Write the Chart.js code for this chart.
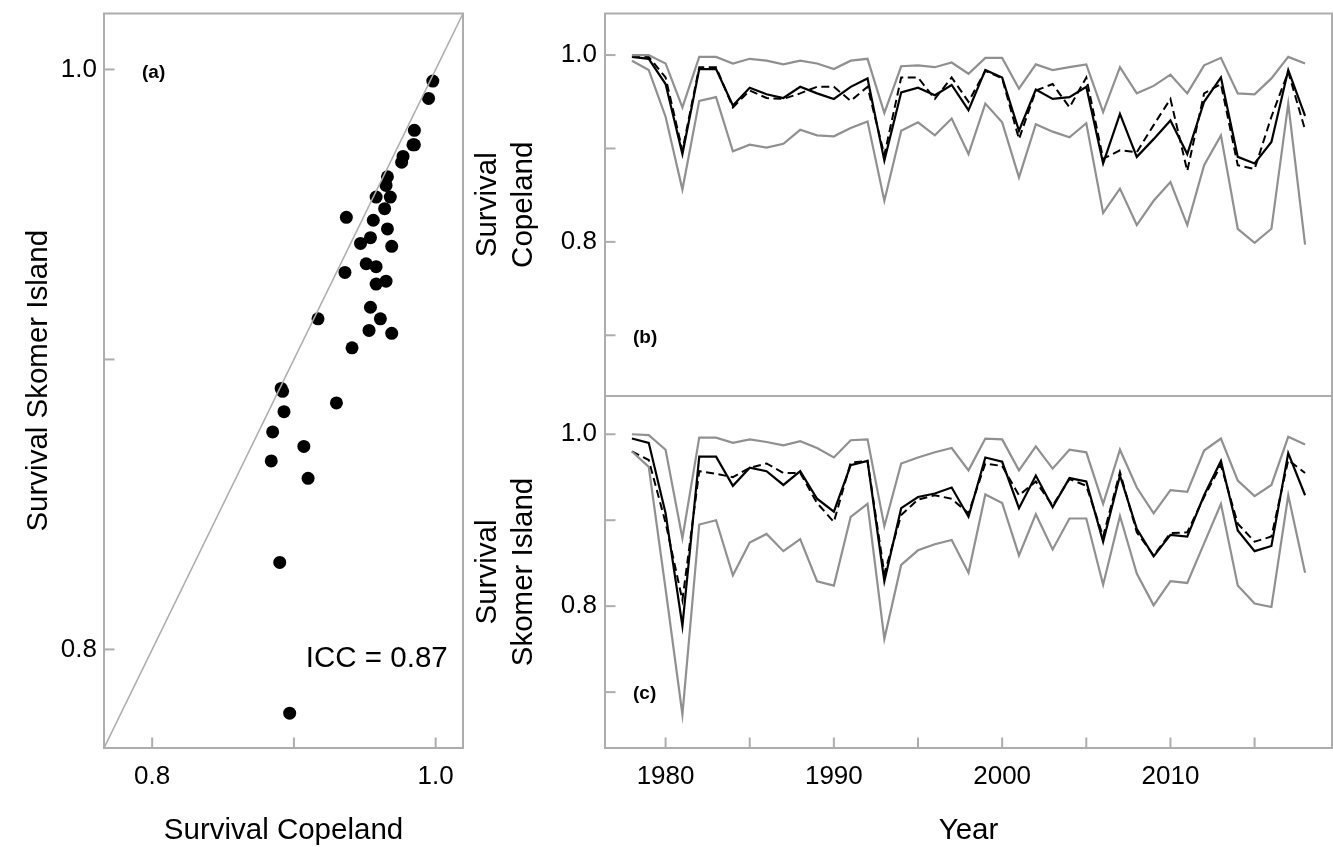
<!DOCTYPE html>
<html>
<head>
<meta charset="utf-8">
<title>Survival Copeland vs Skomer Island</title>
<script src="https://cdn.jsdelivr.net/npm/chart.js@4.4.1/dist/chart.umd.min.js"></script>
<style>
  html, body { margin: 0; padding: 0; background: #fff; }
  #wrap { position: relative; width: 1333px; height: 847px; overflow: hidden; background: #fff; }
  canvas { position: absolute; }
</style>
</head>
<body>
<div id="wrap">
  <canvas id="graficoA" width="470" height="847" style="left:0;top:0;width:470px;height:847px"></canvas>
  <canvas id="graficoB" width="863" height="400" style="left:470px;top:0;width:863px;height:400px"></canvas>
  <canvas id="graficoC" width="863" height="455" style="left:470px;top:392px;width:863px;height:455px"></canvas>
</div>
<script>
// anos e estimativas de sobrevivencia
const anos = [1978, 1979, 1980, 1981, 1982, 1983, 1984, 1985, 1986, 1987,
              1988, 1989, 1990, 1991, 1992, 1993, 1994, 1995, 1996, 1997,
              1998, 1999, 2000, 2001, 2002, 2003, 2004, 2005, 2006, 2007,
              2008, 2009, 2010, 2011, 2012, 2013, 2014, 2015, 2016, 2017, 2018];

// (b) Copeland
const copSup = [1.0, 1.0, 0.991, 0.944, 0.998, 0.998, 0.991, 0.996, 0.994, 0.990,
                0.994, 0.991, 0.985, 0.994, 0.996, 0.938, 0.988, 0.989, 0.987, 0.992,
                0.980, 0.997, 0.997, 0.964, 0.990, 0.984, 0.987, 0.990, 0.939, 0.987,
                0.959, 0.967, 0.979, 0.959, 0.989, 0.997, 0.959, 0.958, 0.975, 0.998, 0.991];
const copInf = [0.994, 0.984, 0.934, 0.856, 0.951, 0.955, 0.897, 0.904, 0.901, 0.905,
                0.920, 0.914, 0.913, 0.922, 0.929, 0.844, 0.919, 0.928, 0.914, 0.932,
                0.894, 0.948, 0.928, 0.869, 0.926, 0.918, 0.912, 0.927, 0.831, 0.857,
                0.818, 0.844, 0.864, 0.818, 0.882, 0.914, 0.814, 0.799, 0.814, 0.948, 0.797];
const copSolida = [0.998, 0.996, 0.969, 0.894, 0.985, 0.985, 0.946, 0.965, 0.958, 0.954,
                   0.966, 0.959, 0.953, 0.966, 0.975, 0.887, 0.960, 0.965, 0.957, 0.968,
                   0.941, 0.984, 0.976, 0.919, 0.963, 0.953, 0.955, 0.966, 0.884, 0.937,
                   0.891, 0.910, 0.930, 0.894, 0.950, 0.976, 0.891, 0.884, 0.907, 0.984, 0.935];
const copTracejada = [0.999, 0.998, 0.976, 0.898, 0.987, 0.987, 0.944, 0.962, 0.954, 0.953,
                      0.959, 0.966, 0.966, 0.951, 0.966, 0.893, 0.976, 0.976, 0.953, 0.976,
                      0.950, 0.983, 0.975, 0.910, 0.962, 0.969, 0.944, 0.976, 0.889, 0.898,
                      0.896, 0.925, 0.953, 0.876, 0.959, 0.969, 0.882, 0.878, 0.934, 0.982, 0.920];

// (c) Skomer Island
const skoSup = [1.0, 0.999, 0.982, 0.879, 0.996, 0.996, 0.990, 0.994, 0.991, 0.987,
                0.992, 0.984, 0.973, 0.993, 0.994, 0.893, 0.966, 0.973, 0.979, 0.984,
                0.958, 0.995, 0.994, 0.958, 0.986, 0.960, 0.982, 0.979, 0.919, 0.982,
                0.938, 0.908, 0.935, 0.933, 0.981, 0.995, 0.946, 0.928, 0.941, 0.997, 0.988];
const skoInf = [0.980, 0.962, 0.820, 0.674, 0.895, 0.900, 0.836, 0.874, 0.884, 0.864,
                0.878, 0.829, 0.824, 0.904, 0.919, 0.762, 0.848, 0.865, 0.872, 0.877,
                0.839, 0.930, 0.920, 0.859, 0.907, 0.866, 0.902, 0.902, 0.825, 0.905,
                0.838, 0.801, 0.829, 0.827, 0.873, 0.919, 0.824, 0.803, 0.799, 0.929, 0.839];
const skoSolida = [0.995, 0.990, 0.908, 0.777, 0.974, 0.974, 0.940, 0.961, 0.957, 0.941,
                   0.957, 0.925, 0.910, 0.964, 0.969, 0.829, 0.914, 0.927, 0.931, 0.938,
                   0.904, 0.973, 0.968, 0.914, 0.952, 0.915, 0.949, 0.945, 0.875, 0.952,
                   0.890, 0.858, 0.883, 0.881, 0.929, 0.969, 0.888, 0.864, 0.870, 0.978, 0.929];
const skoTracejada = [0.980, 0.970, 0.897, 0.807, 0.957, 0.954, 0.950, 0.961, 0.966, 0.955,
                      0.955, 0.920, 0.898, 0.967, 0.969, 0.838, 0.906, 0.924, 0.929, 0.925,
                      0.908, 0.966, 0.963, 0.929, 0.945, 0.917, 0.948, 0.940, 0.881, 0.956,
                      0.886, 0.859, 0.885, 0.886, 0.927, 0.964, 0.896, 0.875, 0.881, 0.970, 0.955];

// (a) pontos: Copeland (x) vs Skomer Island (y)
const pontosCop = [0.998, 0.995, 0.985, 0.985, 0.984, 0.977, 0.976, 0.966, 0.965, 0.968,
                   0.958, 0.964, 0.937, 0.956, 0.966, 0.954, 0.947, 0.969, 0.936, 0.951,
                   0.958, 0.965, 0.958, 0.954, 0.961, 0.917, 0.953, 0.969, 0.941, 0.891,
                   0.892, 0.930, 0.893, 0.885, 0.907, 0.884, 0.910, 0.890, 0.897];
const pontosSko = [0.996, 0.990, 0.979, 0.974, 0.974, 0.970, 0.968, 0.963, 0.960, 0.956,
                   0.956, 0.952, 0.949, 0.948, 0.945, 0.942, 0.940, 0.939, 0.930, 0.933,
                   0.932, 0.927, 0.926, 0.918, 0.914, 0.914, 0.910, 0.909, 0.904, 0.890,
                   0.889, 0.885, 0.882, 0.875, 0.870, 0.865, 0.859, 0.830, 0.778];

const rotuloICC = 'ICC = 0.87';

// limites dos eixos
const limA = [0.766, 1.0193];
const limAnos = [1976.4, 2019.6];
const limSobrev = [0.635, 1.0445];

const CINZA_EIXO = '#adadad';
const CINZA_IC = '#909090';
const FONTE = "'Liberation Sans', Arial, sans-serif";

Chart.defaults.font.family = FONTE;
Chart.defaults.color = '#000';
Chart.defaults.animation = false;

// moldura, ticks para dentro e textos
function moldura(cfg) {
    return {
        id: 'moldura',
        afterDraw(chart) {
            const ctx = chart.ctx;
            const a = chart.chartArea;
            ctx.save();
            ctx.strokeStyle = CINZA_EIXO;
            ctx.lineWidth = 2;
            ctx.strokeRect(a.left, a.top, a.right - a.left, a.bottom - a.top);
            cfg.ticks.forEach(function(id) {
                const s = chart.scales[id];
                s.ticks.forEach(function(t) {
                    const p = s.getPixelForValue(t.value);
                    ctx.beginPath();
                    if (s.isHorizontal()) {
                        ctx.moveTo(p, a.bottom);
                        ctx.lineTo(p, a.bottom - 10.5);
                    } else {
                        ctx.moveTo(a.left, p);
                        ctx.lineTo(a.left + 10.5, p);
                    }
                    ctx.stroke();
                });
            });
            ctx.fillStyle = '#000';
            cfg.textos.forEach(function(t) {
                ctx.font = t.font;
                ctx.textAlign = t.align;
                ctx.textBaseline = 'middle';
                const x = t.xv !== undefined ? chart.scales.x.getPixelForValue(t.xv) : a.left + t.dx;
                const y = chart.scales.y.getPixelForValue(t.yv) + (t.dy || 0);
                ctx.fillText(t.text, x, y);
            });
            ctx.restore();
        }
    };
}

// sem folga extra para os rotulos nas pontas
function semFolga(s) {
    s.paddingTop = 0;
    s.paddingBottom = 0;
    s.paddingLeft = 0;
    s.paddingRight = 0;
}

function rotuloDecimal(v) {
    const r = Math.round(v * 10);
    return r % 2 === 0 ? (r / 10).toFixed(1) : '';
}

//Grafico (a)
new Chart(document.getElementById('graficoA').getContext('2d'), {
    type: 'scatter',
    data: {
        datasets: [{
            type: 'line',
            data: [{x: limA[0], y: limA[0]}, {x: limA[1], y: limA[1]}],
            borderColor: CINZA_EIXO,
            borderWidth: 1.6,
            pointRadius: 0
        }, {
            data: pontosCop.map(function(c, i) { return {x: c, y: pontosSko[i]}; }),
            backgroundColor: '#000',
            borderColor: '#000',
            pointRadius: 6.5,
            borderWidth: 0
        }]
    },
    options: {
        responsive: false,
        layout: { padding: { left: 0, top: 13.5, right: 7, bottom: 0 } },
        plugins: { legend: { display: false }, tooltip: { enabled: false } },
        scales: {
            x: {
                type: 'linear', min: limA[0], max: limA[1],
                grid: { display: false, drawTicks: false },
                border: { display: false },
                ticks: { stepSize: 0.1, includeBounds: false, autoSkip: false, maxRotation: 0,
                         padding: 13, font: { size: 26 }, callback: rotuloDecimal },
                title: { display: true, text: 'Survival Copeland', font: { size: 29.5, lineHeight: 1 },
                         padding: { top: 0, bottom: 1 } },
                afterFit: function(s) { s.height = 99; semFolga(s); }
            },
            y: {
                type: 'linear', min: limA[0], max: limA[1],
                grid: { display: false, drawTicks: false },
                border: { display: false },
                ticks: { stepSize: 0.1, includeBounds: false, autoSkip: false,
                         padding: 7, font: { size: 26 }, callback: rotuloDecimal },
                title: { display: true, text: 'Survival Skomer Island', font: { size: 29.5, lineHeight: 1.2 },
                         padding: { top: 21, bottom: 0 } },
                afterFit: function(s) { s.width = 104; semFolga(s); }
            }
        }
    },
    plugins: [moldura({
        ticks: ['x', 'y'],
        textos: [
            { text: '(a)', font: 'bold 19px ' + FONTE, align: 'left', dx: 38, yv: 0.999 },
            { text: rotuloICC, font: '29.5px ' + FONTE, align: 'right', xv: 1.0085, yv: 0.7967 }
        ]
    })]
});

function seriesTempo(sup, inf, solida, tracejada) {
    return [{
        data: sup, borderColor: CINZA_IC, borderWidth: 2.2, pointRadius: 0, tension: 0
    }, {
        data: inf, borderColor: CINZA_IC, borderWidth: 2.2, pointRadius: 0, tension: 0
    }, {
        data: solida, borderColor: '#000', borderWidth: 2.2, pointRadius: 0, tension: 0
    }, {
        data: tracejada, borderColor: '#000', borderWidth: 2, borderDash: [8, 4.5], pointRadius: 0, tension: 0
    }].map(function(d) {
        d.data = d.data.map(function(v, i) { return {x: anos[i], y: v}; });
        return d;
    });
}

function eixoY(titulo) {
    return {
        type: 'linear', min: limSobrev[0], max: limSobrev[1],
        grid: { display: false, drawTicks: false },
        border: { display: false },
        ticks: { stepSize: 0.1, includeBounds: false, autoSkip: false,
                 padding: 8, font: { size: 26 }, callback: rotuloDecimal },
        title: { display: true, text: titulo, font: { size: 29.5, lineHeight: 1.22 },
                 padding: { top: 0.3, bottom: 0 } },
        afterFit: function(s) { s.width = 135; semFolga(s); }
    };
}

//Grafico (b)
new Chart(document.getElementById('graficoB').getContext('2d'), {
    type: 'line',
    data: { datasets: seriesTempo(copSup, copInf, copSolida, copTracejada) },
    options: {
        responsive: false,
        layout: { padding: { left: 0, top: 13.5, right: 1, bottom: 4 } },
        plugins: { legend: { display: false }, tooltip: { enabled: false } },
        scales: {
            x: { type: 'linear', min: limAnos[0], max: limAnos[1], display: false },
            y: eixoY(['Survival', 'Copeland'])
        }
    },
    plugins: [moldura({
        ticks: ['y'],
        textos: [{ text: '(b)', font: 'bold 19px ' + FONTE, align: 'left', dx: 28, yv: 0.7, dy: 2 }]
    })]
});

//Grafico (c)
new Chart(document.getElementById('graficoC').getContext('2d'), {
    type: 'line',
    data: { datasets: seriesTempo(skoSup, skoInf, skoSolida, skoTracejada) },
    options: {
        responsive: false,
        layout: { padding: { left: 0, top: 4, right: 1, bottom: 0 } },
        plugins: { legend: { display: false }, tooltip: { enabled: false } },
        scales: {
            x: {
                type: 'linear', min: limAnos[0], max: limAnos[1],
                grid: { display: false, drawTicks: false },
                border: { display: false },
                ticks: { stepSize: 5, includeBounds: false, autoSkip: false, maxRotation: 0,
                         padding: 13, font: { size: 26 },
                         callback: function(v) { return v % 10 === 0 ? String(v) : ''; } },
                title: { display: true, text: 'Year', font: { size: 29.5, lineHeight: 1 },
                         padding: { top: 0, bottom: 1 } },
                afterFit: function(s) { s.height = 99; semFolga(s); }
            },
            y: eixoY(['Survival', 'Skomer Island'])
        }
    },
    plugins: [moldura({
        ticks: ['x', 'y'],
        textos: [{ text: '(c)', font: 'bold 19px ' + FONTE, align: 'left', dx: 28, yv: 0.7, dy: 2 }]
    })]
});
</script>
</body>
</html>
